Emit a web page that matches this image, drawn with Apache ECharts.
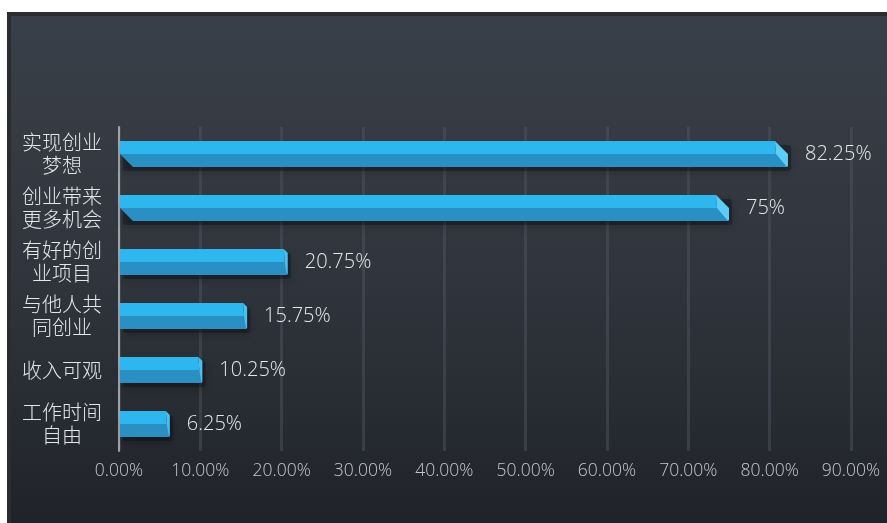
<!DOCTYPE html>
<html>
<head>
<meta charset="utf-8">
<script src="https://cdn.jsdelivr.net/npm/echarts@6/dist/echarts.min.js"></script>
<style>
html,body{margin:0;padding:0;background:#fff;}
#c{width:887px;height:523px;}
</style>
</head>
<body>
<div id="c"></div>
<script>
const categories = ['实现创业\n梦想', '创业带来\n更多机会', '有好的创\n业项目', '与他人共\n同创业', '收入可观', '工作时间\n自由'];
const values = [82.25, 75, 20.75, 15.75, 10.25, 6.25];
const tickLabels = ['0.00%', '10.00%', '20.00%', '30.00%', '40.00%', '50.00%', '60.00%', '70.00%', '80.00%', '90.00%'];

const chart = echarts.init(document.getElementById('c'), null, {renderer: 'canvas'});

function renderItem(params, api) {
  const idx = api.value(0);
  const v = api.value(1);
  const p0 = api.coord([0, idx]);
  const p1 = api.coord([v, idx]);
  const h = 26;
  const x0 = p0[0] + 1, x1 = p1[0];
  const yc = p1[1];
  const top = yc - h / 2, mid = yc, bot = yc + h / 2;
  const long = v > 50;
  const bev = long ? 13 : 4;
  const slant = long ? 13 : 0;
  return {
    type: 'group',
    children: [
      {
        type: 'rect',
        shape: {x: x0 + 3, y: top + 4, width: x1 - x0, height: h, r: 3},
        style: {fill: 'rgba(10,12,16,0.35)', shadowBlur: 8, shadowColor: 'rgba(0,0,0,0.6)', shadowOffsetY: 2},
        silent: true
      },
      {
        type: 'polygon',
        shape: {points: [[x0, top], [x1 - bev, top], [x1 - bev + 1, mid], [x0, mid]]},
        style: {fill: '#2eb6ee'}
      },
      {
        type: 'polygon',
        shape: {points: [[x0, mid], [x1 - 1, mid], [x1 - 1, bot], [x0 + slant, bot]]},
        style: {fill: '#2a8fc2'}
      },
      {
        type: 'polygon',
        shape: {points: [[x1 - bev, top], [x1, top + bev], [x1, bot - 1], [x1 - 1, bot], [x1 - bev + 1, mid]]},
        style: {fill: long ? '#5ccdf6' : '#48c0f0'}
      },
      {
        type: 'text',
        style: {
          x: x1 + 17, y: yc,
          text: v + '%',
          fill: '#e6e8ea',
          font: '300 20px "Open Sans", "Noto Sans", sans-serif',
          align: 'left', verticalAlign: 'middle'
        }
      }
    ]
  };
}

chart.setOption({
  backgroundColor: '#ffffff',
  animation: false,
  graphic: [
    {
      type: 'rect', z: -10,
      shape: {x: 7, y: 12, width: 900, height: 520},
      style: {fill: '#2a2c30'}
    },
    {
      type: 'rect', z: -9,
      shape: {x: 11, y: 16, width: 890, height: 520},
      style: {
        fill: new echarts.graphic.LinearGradient(0, 0, 0, 1, [
          {offset: 0, color: '#393f48'},
          {offset: 0.5, color: '#30353d'},
          {offset: 1, color: '#1f2228'}
        ])
      }
    }
  ],
  grid: {left: 119, right: 36, top: 127, bottom: 72, containLabel: false},
  xAxis: {
    type: 'value', min: 0, max: 90, interval: 10,
    axisLine: {show: false},
    axisTick: {show: false},
    splitLine: {show: true, lineStyle: {color: 'rgba(80,88,100,0.45)', width: 3}},
    axisLabel: {
      color: '#c4c8cd', fontSize: 17.5, margin: 11,
      fontFamily: '"Open Sans", "Noto Sans", sans-serif', fontWeight: 300,
      formatter: (val) => tickLabels[Math.round(val / 10)]
    }
  },
  yAxis: {
    type: 'category', data: categories, inverse: true,
    axisLine: {show: true, lineStyle: {color: '#a0a3a7', width: 2}},
    axisTick: {show: false},
    splitLine: {show: false},
    axisLabel: {
      color: '#e4e6e8', fontSize: 20, lineHeight: 23, align: 'center', margin: 57,
      fontFamily: '"Noto Sans CJK SC", sans-serif', fontWeight: 300
    }
  },
  series: [{
    type: 'custom',
    renderItem: renderItem,
    encode: {x: 1, y: 0},
    data: values.map((v, i) => [i, v])
  }]
});
</script>
</body>
</html>
